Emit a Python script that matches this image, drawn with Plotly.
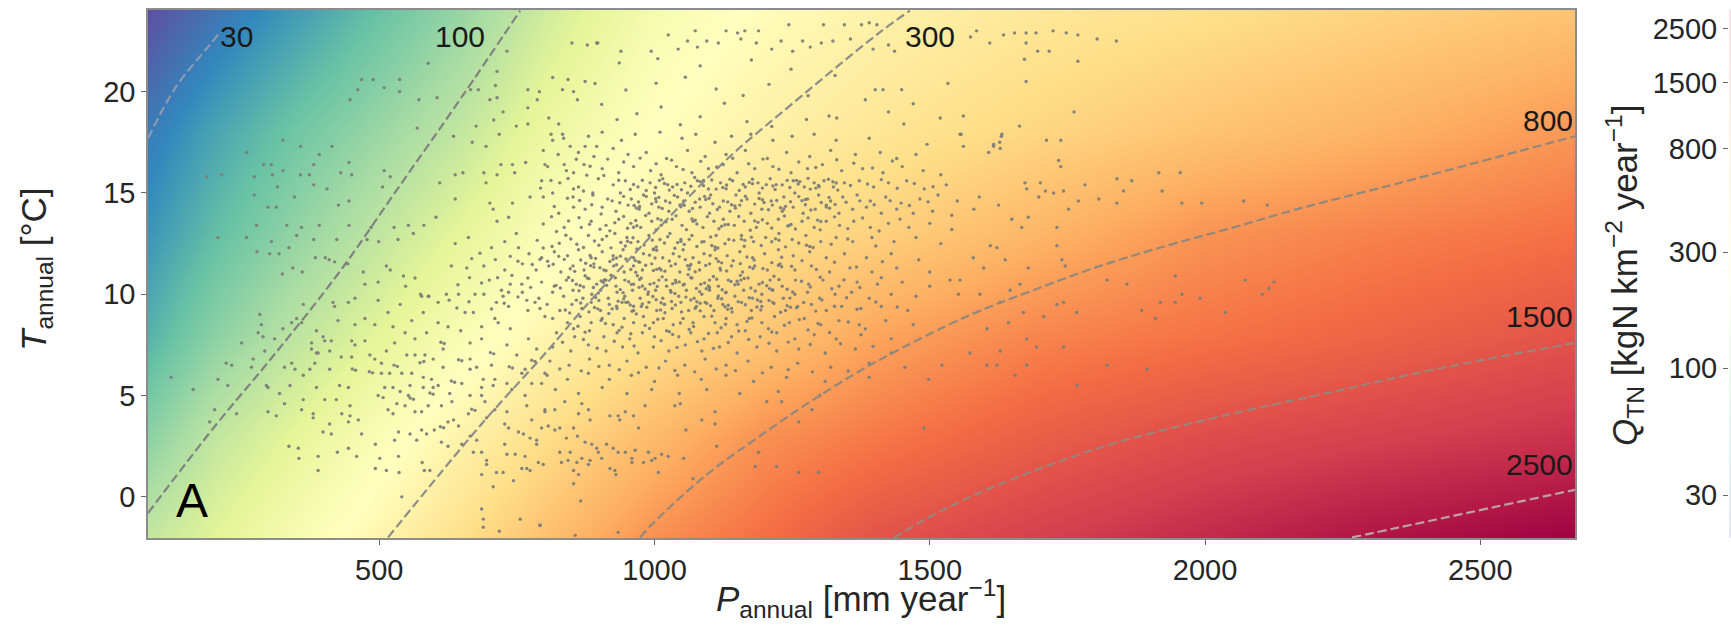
import plotly.graph_objects as go

W, H = 1731, 626
PLOT_L, PLOT_R, PLOT_T, PLOT_B = 148, 1575, 10, 538

field_P = [80, 200, 350, 500, 650, 800, 1000, 1200, 1400, 1700, 2000, 2300, 2672]
field_T = [-2, 3, 8, 13, 18, 24]
field_logQ = [
    [2.04, 2.16, 2.31, 2.46, 2.60, 2.74, 2.92, 3.04, 3.16, 3.25, 3.33, 3.405, 3.47],
    [1.85, 2.03, 2.18, 2.33, 2.48, 2.61, 2.77, 2.92, 3.00, 3.11, 3.19, 3.24, 3.30],
    [1.67, 1.85, 2.02, 2.17, 2.32, 2.46, 2.60, 2.72, 2.85, 2.96, 3.02, 3.08, 3.16],
    [1.56, 1.72, 1.88, 2.03, 2.18, 2.33, 2.49, 2.59, 2.67, 2.79, 2.91, 2.97, 3.03],
    [1.47, 1.62, 1.77, 1.90, 2.04, 2.22, 2.39, 2.49, 2.56, 2.65, 2.73, 2.80, 2.90],
    [1.30, 1.44, 1.59, 1.74, 1.89, 2.08, 2.30, 2.41, 2.48, 2.55, 2.60, 2.66, 2.73],
]
spectral_r = ["#5e4fa2", "#3288bd", "#66c2a5", "#abdda4", "#e6f598", "#ffffbf",
              "#fee08b", "#fdae61", "#f46d43", "#d53e4f", "#9e0142"]

# ---- contours ----
c30_P = [80, 130, 192, 210]
c30_T = [17.7, 20.2, 22.3, 22.9]
c100_P = [80, 201, 304, 425, 541, 649, 756]
c100_T = [-0.8, 3.47, 6.84, 11.0, 15.5, 19.7, 24]
c300_P = [516, 686, 807, 871, 922, 1030, 1137, 1228, 1408, 1464]
c300_T = [-2, 3.6, 7.25, 9.3, 10.8, 13.9, 16.8, 18.9, 22.9, 24]
c800_P = [974, 1001, 1095, 1186, 1283, 1398, 1567, 1688, 1810, 1931, 2052, 2167, 2354, 2672]
c800_T = [-2, -1.2, 1.1, 2.9, 4.7, 6.6, 8.9, 10.2, 11.4, 12.4, 13.3, 14.2, 15.5, 17.8]
c1500_P = [1435, 1520, 1616, 1817, 2017, 2218, 2418, 2672]
c1500_T = [-2, -0.7, 0.5, 2.5, 3.9, 5.1, 6.3, 7.6]
c2500_P = [2267, 2354, 2672]
c2500_T = [-2, -1.5, 0.35]

label_text = ["30", "100", "300", "800", "1500", "2500"]
label_P = [240, 647, 1500, 2623, 2607, 2607]
label_T = [22.7, 22.7, 22.7, 18.6, 8.9, 1.6]

cbar_ticks = [30, 100, 300, 800, 1500, 2500]
x_ticks = [500, 1000, 1500, 2000, 2500]
y_ticks = [0, 5, 10, 15, 20]

# ---- catchments ----
pts_north_west = [
(489,20.6),(468,20.6),(461,20.1),(447,19.6),(509,20.2),(537,20.6),(537,20),(572,19.6),(605,19.7),(589,21.4),(569,18.2),(635,17.8),
(325,17.6),(357,17.3),(391,16.9),(414,17.3),(259,17),(186,15.8),(214,15.9),(273,15.8),(290,16.4),(304,16.4),(306,15.9),(325,16.1),(357,15.9),(381,16.4),(445,16.5),(430,16),(450,15.9),(509,16.1),(520,15.8),(373,15.9),(315,15.3),(381,15.4),(405,15.2),(506,15.3),(273,14.9),(346,14.8),(426,14.4),(445,14.6),(298,14.3),(313,14.3),
(277,13.4),(207,12.8),(259,12.8),(332,13.4),(359,13.3),(391,13.4),(445,13.4),(485,13.3),(527,13.3),(553,13.4),(562,13),(581,13.4),(350,12.9),(381,12.7),(423,12.7),(478,12.7),(499,12.6),(534,12.7),(304,12.6),(336,12.3),(278,12.1),(301,12),(318,12),
(402,11.8),(409,11.7),(384,11.8),(419,11.6),(443,11.5),(343,11.3),(360,11.1),(324,11),(471,11.1),(513,11.4),(520,11.2),(544,10.9),(565,10.8),(631,11.4),(659,11.3),(575,10),(590,9.9),(548,10.4),
(666,20.1),(680,20.1),(714,21),(711,20.3),(701,19.6),(714,19.7),(770,20.1),(791,20),(850,22.4),(878,22.3),(895,22.4),(732,22),(815,20.7),(843,20.6),(853,20),(860,19.6),(874,20.5),(892,20.4),(833,20.1),(787,19.6),(770,19.2),(725,19),(708,18.6),(676,18.3),(749,18.3),(770,18.4),(808,18.7),(826,18.4),(718,17.9),(669,17.5),(694,17.3),(833,17.9),(815,17.6),(847,17.3),(874,17.3),(895,17.3),
(721,16.4),(742,16.4),(766,16.5),(801,16.4),(836,16.4),(714,15.9),(690,16),(652,16),(638,15.9),(610,15.5),(694,15.5),(746,16),(638,14.7),(701,14.5),(742,14.5),(774,14.8),(798,14.8),(815,15),(853,16),(853,15.2),(871,15.1),(888,15),(826,14),(853,14.3),(874,14.2),(707,14.2),(714,13.6),(735,13.8),(603,13.8),(836,13.3),(867,13.3),(822,13.1),(749,13),(662,12.8),(638,12.5),(704,12.3),(728,12.6),(753,12.3),
]
pts_top_east = [
(897,22.4),(939,22),(994,22),(1025,22.8),(1043,22.1),(1074,23),(1060,22.5),(1078,22.2),(1095,22.5),(1116,22.4),(1130,23),(1151,22.9),(1164,23),(1157,22.6),(1189,23),(1185,22.4),(1213,22.1),(1230,22.5),(1251,22),(1244,23.3),(1269,22.5),(1283,22.2),(1307,23.3),(1303,22.4),(1324,22.5),(1345,23.3),(1356,22.6),(1376,23.3),(1390,23.4),(1404,23.3),(1397,22.1),(1425,22.3),(1436,22),(1574,22.7),(1585,23),(1609,22.4),(1634,22.8),(1654,22.9),(1675,22.9),(1693,22.9),(1675,22.4),(1696,22),(1717,22),(1672,21.6),(1724,23),(1748,22.9),(1769,22.8),(1804,22.6),(1839,22.5),(1769,21.5),(1675,20.5),(1533,20.4),(1401,20.1),(1415,20.1),(1449,20.1),(1383,19.6),(1470,19.4),(1328,20.8),(1279,19.8),(1519,18.7),(1561,18.8),(1762,19),(1663,18.3),(1425,19),(1453,18.4),(1317,18.8),(1331,18.7),(1557,17.9),(1561,17.3),(1630,17.8),(1616,17.3),(1627,17.5),(1712,17.6),(1738,17.6),(1734,16.6),(1495,17.4),(1738,16.3),
(1555,17.9),(1631,17.9),(1616,17.4),(1628,17.2),(1607,17),(1916,16),(1955,16),(1840,15.7),(1867,15.6),(1852,15.1),(1807,14.7),(1840,14.5),(1922,15.1),(1958,14.5),(1994,14.5),(2070,14.6),(2113,14.4),(1782,15.4),(1770,14.6),(1673,15.5),(1701,15.5),(1676,15.2),(1710,15.1),(1725,15),(1743,15.1),(1698,14.8),(1752,14.2),(1679,13.8),(1649,13.7),(1667,13.3),(1731,13.3),(1731,12.4),(1637,11.7),(1740,11.7),(1746,11.4),(1679,11.3),(1610,12.4),(1622,12.3),(1579,11.8),(1598,11.3),(1555,10.7),(1537,10.7),(1552,10),(1591,10),(1628,9.6),(1646,10.2),(1664,10.5),(1822,10.7),(1858,10.5),(1946,10.9),(2073,10.7),(2125,10.6),(2116,10.3),(2104,10),(1958,10),(1991,9.8),(1919,9.6),(1946,9.6),(1885,9.2),(1910,8.8),(2037,9.1),(1767,9.1),(1707,8.9),(1670,9.1),(1731,9.5),(1743,9.6),(1643,8.6),(1604,8.3),(1676,7.8),(1743,7.4),(1694,7.4),(1628,7.2),(1573,7.1),(1522,6.5),(1604,6.5),(1622,6.5),(1676,6.5),(1655,6),(1498,5.8),(1822,6.5),(1895,6.3),(1767,5.5),
]
pts_south_central = [
(801,4.2),(819,4.3),(837,4.7),(868,4.6),(862,4.1),(880,4.3),(883,3.8),(919,4),(934,4),(937,3.8),(947,4.2),(962,4),(971,3.4),(795,3.4),(807,3.5),(819,3.3),(828,3.4),(853,3.4),(860,3),(840,2.9),(874,2.7),(886,2.6),(895,2.4),(898,2.2),(904,1.9),(913,2.6),(925,2.4),(934,2.2),(947,2.2),(965,2.3),(959,1.9),(959,1.7),(989,2.2),(995,1.8),(1001,1.9),(1013,2.1),(1025,2),(980,1.7),(1053,1.9),(828,2.2),(847,2.2),(831,1.7),(843,1.8),(859,1.7),(868,1.9),(883,1.8),(880,1.6),(798,1.6),(853,1.3),(862,1.1),(919,1.4),(928,1.3),(930,1.1),(853,.65),(1007,1.2),(1070,.9),(866,-.2),(934,-1.75),(856,-1.9),(792,-1.4),(1086,3.8),(1110,4.2),(1110,3.6),(1057,3.3),(1113,2.5),(1189,2.2),(1183,1.5),(1222,1.5),(1262,1.2),(1298,1.2),(1262,3.7),(1286,4.3),(1047,4.6),(1037,4.5),(983,4.5),(1231,4.7),(1489,3.4),(1204,4.7),
]
pts_south_west = [
(122,5.9),(162,5.3),(207,5.8),(225,5.5),(222,6.6),(232,6.5),(271,6.8),(268,6.4),(250,7.6),(283,9),(286,8.5),(280,8.1),(289,7.9),(310,7.8),(325,8.3),(341,8.6),(350,8.8),(362,9.5),(359,8.6),(292,7.2),(295,5.5),(298,5.4),(338,5.5),(319,5.1),(328,4.6),(298,4.2),(313,4),(201,4.3),(192,3.7),(241,4.1),(328,6.4),(341,6.6),(347,6.3),(362,6),(377,7.6),(386,7.1),(374,6.3),(383,6.6),(386,5.4),(362,4.8),(359,4.3),(380,4.1),(380,3.9),(401,4.8),(422,4.8),(428,5.5),(444,5.4),(410,3.6),(398,3.2),(413,3.1),(336,2.5),(353,2.4),(354,1.9),(389,2),(389,1.3),(424,2.2),(444,2.4),(459,2),(432,4.1),(447,4),(447,4.5),(444,3.7),(462,3.8),(468,3.1),(493,2.6),(501,1.9),(493,1.4),(513,1.3),(536,1.2),(535,2),(528,2.8),(535,3.2),(556,3.1),(568,2.8),(578,1.7),(582,1.3),(592,1.3),(541,0),(600,3.3),(577,3.3),(586,3.1),(613,2.7),(625,2.5),(665,3),(677,2.8),(650,2.6),(671,2.2),(686,2.2),(695,1.8),(695,1.6),(686,1.1),(713,1.2),(725,1.2),(744,.8),(707,.5),(728,2.6),(732,2.1),(747,2.1),(765,2),(768,1.4),(774,1.3),(759,1.4),(789,1.7),(774,2.9),(786,2.8),(786,2.6),(753,3.2),(762,3.1),(735,3.4),(686,-.6),(689,-1.1),(689,-1.5),(718,-1.7),(756,-1.1),(792,-1.4),
(498,9.7),(456,9.8),(444,9.6),(474,10.5),(498,10.6),(416,9.6),(419,9.4),(386,8.2),(398,7.9),(401,7.7),(413,7.7),(377,7.3),(410,7.2),(389,7.1),(425,8.7),(456,8.5),(474,8.8),(492,8.5),(450,7.7),(456,7.5),(474,7.7),(431,6.9),(450,6.9),(483,7),(492,6.8),(504,6.6),(410,6.3),(513,7.2),(528,7.6),(525,8.4),(547,8.1),(565,7.8),(586,8.1),(559,8.7),(516,9.1),(538,9.5),(580,9.1),(589,9.9),(622,10),(577,9.9),(607,9.6),(644,10),(674,10),(607,8.6),(625,8.4),(648,8.2),(656,9.1),(671,9.1),(713,9.6),(722,10.2),(735,10.1),(759,10.5),(768,9.7),(783,9.6),(801,8.9),(716,8.6),(738,8.3),(710,8.8),(686,8.4),(792,9.3),
(550,7),(565,7),(583,7),(598,6.8),(616,7.3),(616,6.4),(665,7.6),(686,7.8),(732,7.5),(750,7),(771,7.8),(786,7.3),(665,6.8),(677,6.4),(704,6.5),(504,6.1),(519,6.1),(541,6.1),(559,6.1),(580,5.9),(595,5.8),(607,5.5),(598,5.4),(580,5.4),(556,5.5),(510,5.4),(525,5.4),(538,5.2),(553,5),(498,5),(628,5.1),(632,4.7),(650,5.6),(665,6.3),(689,5.8),(686,5.4),(707,5.5),(732,5.6),(759,6.1),(686,5),(692,4.7),(665,5),(710,5.8),(777,5.6),(795,5.6),(765,6.3),(801,6.1),(741,5.3),(765,5),(613,4.5),(589,4.5),(577,4.2),(565,4.2),(547,4.5),(532,4.6),(516,4.3),(525,4.1),(507,4.9),(635,3.8),(644,3.5),(625,3.7),(695,3.9),(732,4.2),(728,3.6),(662,4.1),(710,4.3),(768,4.5),(777,3.8),(801,4.3),
]
pts_core_low = [
(853,8.3),(861,8.42),(874,8.13),(903,8.71),(911,8.56),(936,8.22),(941,8.37),(957,8.05),(983,8.46),(991,8.31),(1006,8.77),(1027,8.15),(1033,8.02),(1047,8.58),(1063,8.26),(1071,8.41),(1098,8.06),(1104,8.92),(1121,8.35),(1129,8.52),(1153,8.19),(1168,8.66),(1177,8.83),(1207,8.3),(1213,8.14),(1236,8.47),(1263,8.75),(1279,8.24),(1297,8.56),(1318,8.11),(1352,8.63),(1383,8.29),
(838,9.22),(846,9.08),(858,9.71),(866,9.57),(881,9.13),(893,9.84),(899,9.69),(917,9.05),(923,9.28),(931,9.41),(944,9.77),(952,9.61),(959,9.16),(967,9.03),(978,9.52),(986,9.36),(997,9.89),(1003,9.73),(1011,9.22),(1019,9.09),(1031,9.64),(1038,9.47),(1049,9.13),(1057,9.86),(1066,9.72),(1074,9.31),(1083,9.18),(1095,9.55),(1102,9.43),(1116,9.92),(1122,9.78),(1133,9.26),(1141,9.12),(1152,9.63),(1165,9.48),(1172,9.83),(1186,9.37),(1193,9.22),(1208,9.69),(1217,9.54),(1229,9.11),(1246,9.81),(1258,9.34),(1271,9.59),(1293,9.17),(1304,9.72),(1327,9.41),(1349,9.83),(1368,9.26),(1402,9.62),(1441,9.37),
(821,10.44),(829,10.31),(844,10.83),(851,10.68),(863,10.17),(874,10.91),(881,10.77),(889,10.33),(898,10.06),(907,10.59),(913,10.44),(921,10.94),(929,10.81),(938,10.23),(943,10.08),(953,10.62),(958,10.49),(969,10.91),(973,10.73),(983,10.26),(989,10.12),(999,10.55),(1005,10.38),(1014,10.86),(1021,10.71),(1029,10.19),(1037,10.04),(1045,10.61),(1052,10.46),(1061,10.97),(1066,10.82),(1076,10.29),(1082,10.13),(1091,10.56),(1098,10.41),(1107,10.88),(1113,10.74),(1123,10.22),(1129,10.07),(1139,10.63),(1146,10.47),(1156,10.93),(1163,10.78),(1175,10.31),(1183,10.16),(1196,10.58),(1204,10.42),(1217,10.89),(1226,10.73),(1241,10.25),(1251,10.11),(1267,10.64),(1283,10.36),(1301,10.84),(1322,10.27),(1344,10.71),(1373,10.33),(1412,10.82),
(806,11.63),(816,11.48),(826,11.87),(836,11.72),(847,11.26),(855,11.13),(866,11.69),(875,11.53),(883,11.91),(893,11.77),(901,11.31),(912,11.16),(919,11.62),(931,11.46),(938,11.88),(948,11.74),(957,11.22),(966,11.09),(973,11.58),(984,11.43),(991,11.93),(1001,11.79),(1009,11.28),(1019,11.14),(1027,11.64),(1038,11.49),(1045,11.86),(1056,11.71),(1063,11.24),(1074,11.11),(1081,11.57),(1093,11.42),(1101,11.91),(1112,11.76),(1119,11.29),(1131,11.15),(1143,11.66),(1156,11.51),(1168,11.84),(1181,11.69),(1197,11.27),(1213,11.56),(1231,11.83),(1249,11.38),(1268,11.66),(1294,11.22),(1327,11.58),(1367,11.34),(1414,11.61),
(814,12.36),(827,12.52),(848,12.73),(859,12.47),(871,12.31),(891,12.63),(899,12.42),(913,12.87),(921,12.29),(939,12.56),(947,12.38),(961,12.79),(968,12.24),(981,12.43),(996,12.67),(1003,12.33),(1018,12.53),(1024,12.84),(1037,12.27),(1054,12.46),(1063,12.71),(1077,12.36),(1086,12.58),(1102,12.83),(1115,12.28),(1128,12.49),(1144,12.66),(1163,12.37),(1176,12.82),(1194,12.41),(1213,12.59),(1238,12.34),(1262,12.53),(1288,12.31),(1321,12.47),(1351,12.73),(1402,12.38),
]
pts_core_high = [
(901,13.21),(919,13.13),(928,13.53),(944,13.84),(951,13.26),(966,13.64),(984,13.89),(1003,13.18),(1021,13.58),(1039,13.87),(1058,13.19),(1077,13.47),(1096,13.83),(1117,13.23),(1134,13.44),(1153,13.84),(1174,13.16),(1196,13.68),(1213,13.27),(1236,13.86),(1256,13.22),(1279,13.77),(1301,13.18),(1327,13.82),(1351,13.24),(1378,13.77),(1408,13.12),(1446,13.71),
(923,14.61),(937,14.52),(944,14.83),(963,14.38),(971,14.55),(985,14.83),(995,14.46),(1003,14.57),(1014,14.23),(1028,14.52),(1036,14.88),(1053,14.61),(1069,14.23),(1074,14.54),(1091,14.83),(1106,14.47),(1114,14.18),(1133,14.56),(1147,14.25),(1158,14.62),(1165,14.84),(1182,14.45),(1199,14.53),(1207,14.17),(1222,14.63),(1238,14.34),(1247,14.57),(1262,14.82),(1274,14.42),(1284,14.16),(1303,14.53),(1317,14.78),(1328,14.43),(1348,14.54),(1373,14.61),(1399,14.42),(1428,14.62),(1463,14.38),(1497,14.56),
(935,15.63),(956,15.17),(962,15.42),(978,15.63),(985,15.12),(1002,15.27),(1009,15.62),(1027,15.14),(1041,15.42),(1049,15.16),(1066,15.33),(1073,15.76),(1089,15.36),(1104,15.64),(1112,15.19),(1131,15.39),(1137,15.68),(1154,15.12),(1161,15.42),(1178,15.68),(1196,15.24),(1203,15.41),(1219,15.17),(1241,15.62),(1246,15.27),(1261,15.44),(1279,15.72),(1283,15.19),(1298,15.37),(1316,15.68),(1333,15.14),(1356,15.37),(1387,15.44),(1412,15.66),(1441,15.23),(1472,15.47),(1506,15.31),
(858,16.66),(883,16.32),(915,16.67),(944,16.53),(974,16.72),(1003,16.44),(1031,16.62),(1052,16.16),(1084,16.56),(1113,16.28),(1142,16.71),(1171,16.44),(1197,16.67),(1226,16.17),(1262,16.53),(1293,16.26),(1331,16.64),(1362,16.47),(1396,16.23),(1432,16.58),
(793,15.24),(812,15.62),(843,15.71),(877,15.88),(908,15.86),(818,14.33),(842,14.74),(864,14.63),(886,14.42),(903,13.96),(798,13.47),(813,13.83),(844,13.62),(863,13.78),(882,13.45),(787,12.66),(798,12.28),(839,12.91),(778,11.47),(792,11.72),(752,11.63),(738,11.87),(711,11.71),(683,12.03),(668,11.76),(741,10.93),(715,10.82),(686,10.56),(664,10.82),(643,10.47),(775,10.34),(752,9.87),(727,9.56),(704,9.27),(663,9.63),(641,9.32),(627,9.71),
]
pts_core_clumps = [
(956,9.47),(962,9.41),(1012,9.58),(1018,9.51),(1077,9.63),(1083,9.56),(1128,9.38),(1134,9.46),(1187,9.72),(1193,9.64),(1241,9.43),(1247,9.36),(891,9.35),(897,9.28),(934,9.66),(941,9.6),
(972,10.34),(978,10.41),(1033,10.52),(1039,10.58),(1094,10.27),(1100,10.33),(1150,10.64),(1157,10.7),(1209,10.28),(1215,10.21),(903,10.66),(909,10.72),(865,10.43),(871,10.36),
(998,11.17),(1004,11.23),(1060,11.41),(1066,11.47),(1116,11.62),(1122,11.55),(1173,11.34),(1179,11.27),(925,11.73),(931,11.79),(884,11.41),(890,11.34),(1225,11.43),(1231,11.36),(965,11.67),(971,11.6),
(1042,12.55),(1048,12.61),(1104,12.41),(1110,12.34),(1158,12.72),(1164,12.66),(951,12.62),(957,12.55),(998,12.24),(1004,12.17),(1220,12.74),(1226,12.67),(1276,12.42),(1282,12.36),
(1068,13.72),(1074,13.65),(1122,13.36),(1128,13.43),(1182,13.62),(1188,13.55),(1242,13.37),(1248,13.44),(1006,13.73),(1012,13.66),(962,13.31),(968,13.38),(1296,13.66),(1302,13.59),
(1048,14.32),(1054,14.39),(1093,14.68),(1099,14.74),(1140,14.42),(1146,14.36),(1190,14.73),(1196,14.67),(1229,14.27),(1235,14.21),(1268,14.62),(1274,14.68),(1312,14.31),(1318,14.25),(1002,14.72),(1008,14.78),(967,14.26),(973,14.33),
(1083,15.56),(1089,15.62),(1124,15.27),(1130,15.21),(1172,15.52),(1178,15.46),(1215,15.34),(1221,15.41),(1258,15.62),(1264,15.56),(1293,15.24),(1299,15.31),(1018,15.47),(1024,15.41),(1324,15.55),(1330,15.49),
(612,7.63),(618,7.57),(574,6.62),(581,6.68),(533,6.44),(527,6.5),(644,6.77),(650,6.72),(592,5.13),(598,5.07),(556,4.88),(562,4.82),(631,5.72),(637,5.66),(488,6.12),(482,6.18),(668,4.33),(674,4.27),(611,3.46),(617,3.41),(451,6.31),(457,6.25),(702,7.12),(708,7.06),(736,6.42),(742,6.36),(777,6.74),(783,6.68),
(932,18.62),(968,18.91),(1012,19.24),(1047,18.37),(1083,18.76),(1127,19.43),(1168,18.52),(1213,18.28),(1276,18.63),(904,19.37),(948,20.08),(1003,20.42),(1056,20.71),(1112,20.13),(1161,19.81),(1208,20.36),(1248,21.11),(936,21.42),(1006,21.63),(1083,21.27),(1176,21.56),
]
pts_central_high = [
(812,17.9),(835,17.7),(880,17.8),(905,18),(940,17.6),(965,17.9),(1010,18),(1050,17.7),(1075,17.9),(1110,17.5),(1140,17.8),(1175,17.9),(1215,17.6),(1250,17.8),(1290,17.9),(1330,17.6),(1390,17.7),
(798,17.1),(825,16.9),(862,17),(890,16.8),(925,17.2),(952,16.9),(985,17),(1022,16.7),(1060,17.1),(1092,16.8),(1130,16.9),(1165,17.1),(1205,16.7),(1240,17),(1282,16.8),(1320,17.1),(1365,16.9),(1410,17),(1440,16.7),(1475,16.9),
(806,16.3),(840,16.1),(872,16.4),(905,16.2),(935,16),(962,16.3),(993,16.1),(1012,15.9),(1040,16.3),(1068,16),(1098,16.2),(1125,16.4),(1150,16),(1182,16.2),(1215,16.3),(1248,16),(1278,16.2),(1305,16.4),(1340,16.1),(1378,16.2),(1415,16),(1450,16.3),(1488,16.1),(1520,15.9),
(795,15.6),(828,15.5),(862,15.3),(898,15.7),(925,15.4),(947,15.6),(970,15.3),(992,15.5),(1015,15.7),(1033,15.3),(1055,15.5),(1078,15.6),(1098,15.2),(1120,15.5),(1142,15.6),(1165,15.3),(1188,15.5),(1210,15.7),(1232,15.4),(1252,15.6),(1272,15.3),(1290,15.5),(1308,15.6),(1325,15.3),(1345,15.5),(1372,15.6),(1398,15.3),(1425,15.5),(1458,15.6),(1490,15.2),(1530,15.4),
(852,14.8),(888,14.9),(915,14.7),(938,15),(958,14.7),(980,14.9),(1000,15),(1020,14.6),(1042,14.8),(1060,15),(1082,14.7),(1102,14.9),(1125,14.6),(1148,14.9),(1168,14.7),(1190,15),(1212,14.6),(1235,14.8),(1255,15),(1278,14.7),(1298,14.9),(1320,14.6),(1342,14.8),(1368,14.9),(1392,14.6),(1420,14.8),(1448,14.5),(1482,14.7),(1515,14.9),(1550,14.6),(1590,14.8),(1625,14.4),
(905,14.3),(930,14.1),(952,14.4),(972,14.2),(990,14),(1008,14.3),(1026,14.1),(1046,14.4),(1063,14.1),(1083,14.3),(1100,14),(1118,14.3),(1137,14.1),(1155,14.4),(1175,14),(1195,14.2),(1214,14.4),(1232,14.1),(1252,14.3),(1270,14),(1292,14.2),(1312,14.4),(1335,14),(1360,14.2),(1385,14.3),(1412,14),(1440,14.2),(1470,14),(1505,14.1),(1540,13.9),(1580,14.2),
(885,13.6),(912,13.4),(935,13.7),(957,13.5),(975,13.3),(995,13.6),(1012,13.4),(1032,13.7),(1050,13.4),(1070,13.6),(1088,13.3),(1108,13.6),(1125,13.7),(1145,13.4),(1163,13.6),(1185,13.3),(1205,13.5),(1225,13.7),(1245,13.4),(1268,13.6),(1290,13.3),(1312,13.6),(1336,13.4),(1362,13.6),(1392,13.3),(1425,13.5),(1462,13.3),(1500,13.5),(1540,13.2),
(880,12.9),(905,12.7),(928,13),(950,12.8),(970,12.6),(990,12.9),(1010,12.7),(1028,13),(1048,12.7),(1068,12.9),(1090,12.6),(1112,12.9),(1135,12.7),(1158,12.9),(1180,12.6),(1202,12.8),(1226,13),(1250,12.7),(1275,12.9),(1302,12.6),(1330,12.8),(1360,12.6),(1395,12.8),(1435,12.6),(1475,12.8),(1520,12.5),
]
pts_central_low = [
(772,12),(795,11.8),(818,12.1),(842,11.9),(862,12.2),(885,11.8),(905,12.1),(925,11.9),(943,12.2),(962,11.8),(980,12),(998,12.2),(1015,11.8),(1034,12),(1052,12.2),(1070,11.8),(1090,12),(1110,12.2),(1132,11.9),(1155,12.1),(1178,11.8),(1200,12),(1225,12.2),(1252,11.9),(1282,12.1),(1312,11.8),(1345,12),(1385,11.8),(1430,12),(1480,11.7),
(690,11.4),(728,11.2),(760,11.5),(785,11.2),(808,11.4),(830,11.1),(852,11.4),(872,11.2),(890,11.5),(908,11.2),(926,11.4),(945,11.1),(962,11.4),(978,11.2),(995,11.5),(1012,11.2),(1030,11.4),(1046,11.1),(1064,11.4),(1082,11.2),(1100,11.5),(1120,11.2),(1140,11.4),(1160,11.1),(1182,11.4),(1205,11.2),(1228,11.5),(1255,11.2),(1285,11.4),(1318,11.1),(1355,11.3),(1395,11.1),(1440,11.3),(1500,11.1),
(700,10.7),(738,10.5),(770,10.8),(795,10.6),(818,10.4),(840,10.7),(858,10.5),(878,10.8),(895,10.5),(912,10.7),(930,10.4),(946,10.7),(962,10.5),(976,10.8),(992,10.5),(1008,10.7),(1022,10.4),(1038,10.7),(1054,10.5),(1068,10.8),(1084,10.5),(1100,10.7),(1116,10.4),(1134,10.7),(1152,10.5),(1170,10.8),(1190,10.5),(1210,10.7),(1232,10.4),(1256,10.7),(1280,10.5),(1306,10.7),(1335,10.4),(1368,10.6),(1405,10.5),(1450,10.6),(1500,10.4),
(690,10),(725,9.9),(760,10.1),(790,9.8),(815,10.1),(835,9.9),(852,10.2),(870,9.8),(886,10),(902,10.2),(916,9.8),(932,10.1),(946,9.9),(960,10.2),(974,9.8),(988,10),(1002,10.2),(1015,9.8),(1030,10.1),(1044,9.9),(1058,10.2),(1072,9.8),(1086,10),(1100,10.2),(1115,9.8),(1130,10.1),(1146,9.9),(1162,10.2),(1178,9.8),(1195,10),(1214,10.2),(1234,9.8),(1255,10),(1278,10.1),(1300,9.8),(1328,10),(1358,10.1),(1390,9.8),(1430,10),(1475,9.9),
(735,9.4),(770,9.2),(805,9.5),(828,9.2),(850,9.5),(868,9.3),(885,9.6),(902,9.2),(918,9.5),(932,9.3),(948,9.6),(962,9.2),(976,9.4),(990,9.6),(1004,9.2),(1018,9.5),(1032,9.3),(1048,9.6),(1062,9.2),(1076,9.4),(1092,9.6),(1108,9.2),(1124,9.5),(1140,9.3),(1158,9.6),(1176,9.2),(1195,9.4),(1215,9.6),(1238,9.2),(1260,9.4),(1285,9.5),(1312,9.2),(1340,9.4),(1375,9.3),(1412,9.4),(1460,9.2),
(815,8.8),(842,8.6),(865,8.9),(885,8.6),(905,8.8),(925,8.5),(945,8.8),(962,8.6),(980,8.9),(998,8.6),(1016,8.8),(1034,8.5),(1052,8.8),(1070,8.6),(1090,8.9),(1110,8.6),(1130,8.8),(1150,8.5),(1172,8.8),(1195,8.6),(1218,8.9),(1245,8.6),(1272,8.8),(1302,8.5),(1335,8.7),(1372,8.5),(1420,8.7),(1470,8.5),
(822,8.1),(855,7.9),(882,8.2),(908,7.9),(932,8.1),(955,7.8),(978,8.1),(1000,7.9),(1022,8.2),(1044,7.9),(1066,8.1),(1090,7.8),(1114,8.1),(1140,7.9),(1165,8.2),(1192,7.9),(1222,8.1),(1255,7.8),(1290,8),(1330,7.8),(1375,8),(1430,7.8),
(815,7.4),(848,7.2),(880,7.5),(912,7.2),(942,7.4),(970,7.1),(998,7.4),(1026,7.2),(1056,7.5),(1086,7.2),(1118,7.4),(1150,7.1),(1186,7.4),(1222,7.2),(1262,7.3),(1310,7.1),(1365,7.3),(1430,7.1),
(810,6.7),(845,6.5),(882,6.8),(918,6.5),(950,6.7),(985,6.4),(1020,6.7),(1055,6.5),(1092,6.8),(1130,6.5),(1170,6.7),(1212,6.4),(1260,6.6),(1320,6.4),(1390,6.6),(1455,6.4),
(805,6),(842,5.8),(880,6.1),(918,5.8),(958,6),(1000,5.7),(1042,6),(1085,5.8),(1130,6),(1180,5.7),(1240,5.9),(1310,5.7),(1390,5.9),
(820,5.3),(862,5.1),(905,5.4),(950,5.1),(995,5.3),(1045,5.1),(1095,5.3),(1155,5.1),(1225,5.2),(1300,5),
(833,7.63),(871,7.77),(896,7.34),(927,7.68),(963,7.45),(1012,7.71),(1041,7.38),(1078,7.66),(1107,7.33),(1134,7.62),(1171,7.77),(1208,7.58),(1243,7.64),(1283,7.52),(1338,7.56),(1397,7.43),
(828,6.31),(867,6.22),(899,6.44),(936,6.28),(971,6.13),(1008,6.36),(1037,6.24),(1073,6.17),(1112,6.31),(1147,6.23),(1196,6.12),(1243,6.28),(1287,6.17),(1352,6.21),
]

cloud = (pts_north_west + pts_top_east + pts_south_central + pts_south_west
         + pts_core_low + pts_core_high + pts_core_clumps + pts_central_high + pts_central_low)
cloud_P = [p[0] for p in cloud]
cloud_T = [p[1] for p in cloud]

x0, x1 = PLOT_L / W, PLOT_R / W
y0, y1 = 1 - PLOT_B / H, 1 - PLOT_T / H
TXT = "#262626"
FONT = "Liberation Sans"

fig = go.Figure()
fig.add_trace(go.Heatmap(x=field_P, y=field_T, z=field_logQ, zmin=1.30, zmax=3.475,
                         colorscale=[[i / 10, c] for i, c in enumerate(spectral_r)],
                         zsmooth="best", showscale=False, hoverinfo="skip"))
fig.add_trace(go.Scatter(x=cloud_P, y=cloud_T, mode="markers",
                         marker=dict(size=3.4, color="rgba(125,125,120,0.95)", line_width=0),
                         hoverinfo="skip", showlegend=False))
for px, ty, col in [(c30_P, c30_T, "rgba(165,165,175,0.75)"),
                    (c100_P, c100_T, "rgba(125,125,125,0.95)"),
                    (c300_P, c300_T, "rgba(135,135,135,0.95)"),
                    (c800_P, c800_T, "rgba(140,135,125,0.95)"),
                    (c1500_P, c1500_T, "rgba(150,135,125,0.95)"),
                    (c2500_P, c2500_T, "rgba(190,170,170,0.95)")]:
    fig.add_trace(go.Scatter(x=px, y=ty, mode="lines", showlegend=False, hoverinfo="skip",
                             line=dict(color=col, width=2.2, dash="9px,4px", shape="spline")))

# colour bar strip, cropped by the right page edge
fig.add_trace(go.Heatmap(x=[0, 1], y=[20, 30, 60, 100, 170, 245, 400, 800, 1500, 2985],
                         z=[[v, v] for v in [1.30, 1.48, 1.78, 2.0, 2.23, 2.39, 2.6, 2.9, 3.18, 3.475]],
                         zmin=1.30, zmax=3.475, xaxis="x2", yaxis="y2",
                         colorscale=[[0, "#e6e6f6"], [0.2, "#e3f6f2"], [0.5, "#ffffef"], [0.8, "#fff0e6"], [1, "#fbe0ea"]],
                         zsmooth="best", showscale=False, hoverinfo="skip"))

for t, p, v in zip(label_text, label_P, label_T):
    fig.add_annotation(x=p, y=v, text=t, showarrow=False, font=dict(size=30, color="#1a1a1a", family=FONT))
fig.add_annotation(x=160, y=-0.2, text="A", showarrow=False, font=dict(size=48, color="black", family=FONT))

for xp, yp, ang, txt in [
    (861, 598, 0, "<i>P</i><sub>annual</sub> [mm year<sup>−1</sup>]"),
    (36, 270, -90, "<i>T</i><sub>annual</sub> [°C]"),
    (1625, 276, -90, "<i>Q</i><sub>TN</sub> [kgN km<sup>−2</sup> year<sup>−1</sup>]"),
]:
    fig.add_annotation(xref="paper", yref="paper", x=xp / W, y=1 - yp / H, xanchor="center", yanchor="middle",
                       textangle=ang, text=txt, showarrow=False, font=dict(size=35, color=TXT, family=FONT))

axis_common = dict(showgrid=False, zeroline=False, ticks="outside", ticklen=5, tickwidth=1.2,
                   tickcolor="#666666", tickfont=dict(size=29, color=TXT, family=FONT))
fig.update_layout(
    width=W, height=H, margin=dict(l=0, r=0, t=0, b=0), paper_bgcolor="white", plot_bgcolor="white",
    showlegend=False,
    xaxis=dict(domain=[x0, x1], range=[80, 2672], tickvals=x_ticks, showline=True, mirror=True,
               linecolor="#8c8c8c", linewidth=1.5, **axis_common),
    yaxis=dict(domain=[y0, y1], range=[-2.03, 24.03], tickvals=y_ticks, showline=True, mirror=True,
               linecolor="#8c8c8c", linewidth=1.5, **axis_common),
    xaxis2=dict(domain=[1729 / W, 1], range=[0, 1], anchor="y2", visible=False),
    yaxis2=dict(domain=[y0, y1], type="log", range=[1.30, 3.475], anchor="x2", side="left",
                tickvals=cbar_ticks, ticktext=[str(v) for v in cbar_ticks], showline=False,
                **axis_common),
)
fig.write_html("out.html", config={"displayModeBar": False},
               post_script="document.body.style.margin='0';document.body.style.overflow='hidden';")
